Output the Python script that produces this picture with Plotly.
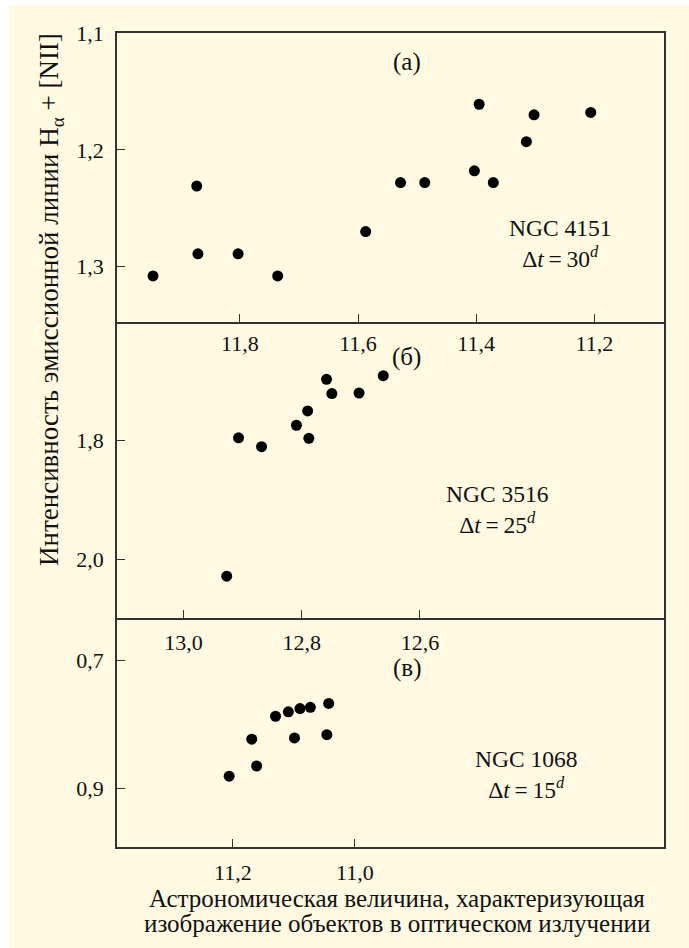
import plotly.graph_objects as go

# ---- data ----
a_mag = [11.947, 11.873, 11.871, 11.803, 11.736, 11.587, 11.528, 11.487, 11.403, 11.395, 11.371, 11.315, 11.302, 11.206]
a_int = [1.308, 1.231, 1.289, 1.289, 1.308, 1.270, 1.228, 1.228, 1.218, 1.161, 1.228, 1.193, 1.170, 1.168]

b_mag = [12.927, 12.907, 12.868, 12.809, 12.790, 12.788, 12.758, 12.749, 12.703, 12.662]
b_int = [2.028, 1.796, 1.811, 1.775, 1.751, 1.797, 1.698, 1.722, 1.721, 1.692]

c_mag = [11.206, 11.169, 11.161, 11.130, 11.109, 11.099, 11.090, 11.073, 11.046, 11.043]
c_int = [0.881, 0.823, 0.865, 0.787, 0.780, 0.821, 0.775, 0.773, 0.816, 0.767]

a_xticks = [11.8, 11.6, 11.4, 11.2]
a_xtext = ["11,8", "11,6", "11,4", "11,2"]
a_yticks = [1.1, 1.2, 1.3]
a_ytext = ["1,1", "1,2", "1,3"]

b_xticks = [13.0, 12.8, 12.6]
b_xtext = ["13,0", "12,8", "12,6"]
b_yticks = [1.8, 2.0]
b_ytext = ["1,8", "2,0"]

c_xticks = [11.2, 11.0]
c_xtext = ["11,2", "11,0"]
c_yticks = [0.7, 0.9]
c_ytext = ["0,7", "0,9"]

FONT = "Liberation Serif"
BG = "#FFFAE1"
LINE = "#333333"
TXT = "#111111"

fig = go.Figure()
mk = dict(color="black", size=11)
fig.add_trace(go.Scatter(x=a_mag, y=a_int, mode="markers", marker=mk, xaxis="x", yaxis="y", showlegend=False))
fig.add_trace(go.Scatter(x=b_mag, y=b_int, mode="markers", marker=mk, xaxis="x2", yaxis="y2", showlegend=False))
fig.add_trace(go.Scatter(x=c_mag, y=c_int, mode="markers", marker=mk, xaxis="x3", yaxis="y3", showlegend=False))

def ax(**kw):
    d = dict(showline=True, mirror=True, linecolor=LINE, linewidth=1.5, showgrid=False, zeroline=False,
             ticks="inside", ticklen=8, tickwidth=1.4, tickcolor=LINE,
             tickfont=dict(family=FONT, size=22, color=TXT), tickmode="array")
    d.update(kw)
    return d

fig.update_layout(
    template="none",
    width=689, height=948,
    margin=dict(l=117, r=25, t=33, b=101),
    paper_bgcolor="white", plot_bgcolor=BG,
    font=dict(family=FONT, size=22, color=TXT),
    xaxis=ax(domain=[0, 1], anchor="y", range=[12.008, 11.082], tickvals=a_xticks, ticktext=a_xtext, ticklabelstandoff=1),
    yaxis=ax(domain=[0.64496, 1], anchor="x", range=[1.3474, 1.1], tickvals=a_yticks, ticktext=a_ytext, ticklabelstandoff=7),
    xaxis2=ax(domain=[0, 1], anchor="y2", range=[13.1127, 12.1868], tickvals=b_xticks, ticktext=b_xtext, ticklabelstandoff=4, mirror=False),
    yaxis2=ax(domain=[0.28133, 0.64496], anchor="x2", range=[2.098, 1.602], tickvals=b_yticks, ticktext=b_ytext, ticklabelstandoff=7),
    xaxis3=ax(domain=[0, 1], anchor="y3", range=[11.3897, 10.4938], tickvals=c_xticks, ticktext=c_xtext, ticklabelstandoff=5, mirror=False),
    yaxis3=ax(domain=[0, 0.28133], anchor="x3", range=[0.992, 0.633], tickvals=c_yticks, ticktext=c_ytext, ticklabelstandoff=7),
)

# background panel (light yellow page with thin white strip on left/top)
fig.add_shape(type="rect", xref="paper", yref="paper", x0=-0.1974, x1=1.05, y0=-0.13, y1=1.0344,
              fillcolor=BG, line=dict(width=0), layer="below")

def note(text, xref, yref, x, y, size=24, **kw):
    fig.add_annotation(text=text, xref=xref, yref=yref, x=x, y=y, showarrow=False,
                       xanchor=kw.pop("xanchor", "center"), yanchor=kw.pop("yanchor", "middle"),
                       font=dict(family=FONT, size=size, color=TXT), **kw)

LBL = "NGC {}<br>Δ<i>t</i>\u2009=\u2009{}<sup><i>d</i></sup>"

note("(а)", "x domain", "y domain", 0.53, 0.8997, size=25)
note(LBL.format(4151, 30), "x domain", "y domain", 0.81, 0.272, size=23.5)

note("(б)", "x2 domain", "y2 domain", 0.53, 0.8818, size=25)
note(LBL.format(3516, 25), "x2 domain", "y2 domain", 0.695, 0.366, size=23.5)

note("(в)", "x3 domain", "y3 domain", 0.53, 0.7817, size=25)
note(LBL.format(1068, 15), "x3 domain", "y3 domain", 0.7495, 0.318, size=23.5)

# axis titles
note("Интенсивность эмиссионной линии H<sub>α</sub> + [NII]", "paper", "paper", -0.1207, 0.6732, size=27, textangle=-90)
note("Астрономическая величина, характеризующая", "paper", "paper", 0.512, -0.0627, size=25)
note("изображение объектов в оптическом излучении", "paper", "paper", 0.512, -0.0934, size=25)

fig.write_html("out.html")
